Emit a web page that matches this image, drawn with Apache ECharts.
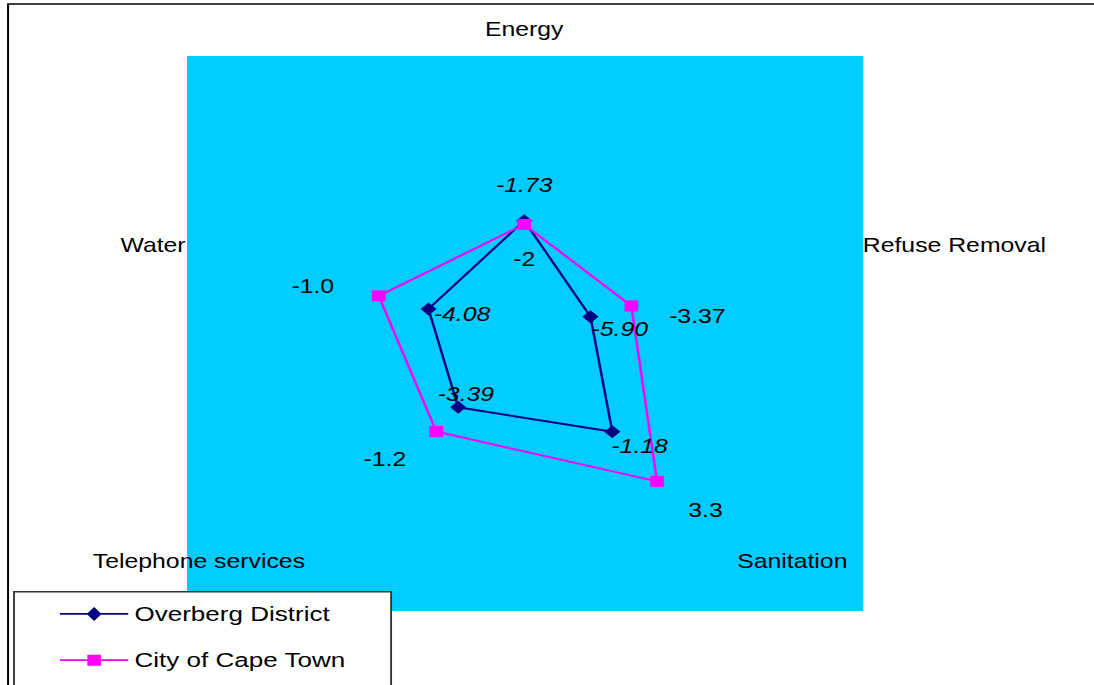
<!DOCTYPE html>
<html>
<head>
<meta charset="utf-8">
<script src="https://cdn.jsdelivr.net/npm/echarts@6/dist/echarts.min.js"></script>
<style>
  html, body { margin: 0; padding: 0; background: #fff; overflow: hidden; width: 1094px; height: 685px; }
  /* the chart is laid out narrow and widened horizontally, giving the wide, flat radar */
  #chart { width: 882px; height: 685px; transform: scaleX(1.2404); transform-origin: 0 0; }
</style>
</head>
<body>
<div id="chart"></div>
<script>
// Indicators, counter-clockwise from the top (ECharts radar order)
const categories = ['Energy', 'Water', 'Telephone services', 'Sanitation', 'Refuse Removal'];
const seriesNames = ['Overberg District', 'City of Cape Town'];

const overbergValues = [-1.73, -4.08, -3.39, -1.18, -5.90];
const overbergDecimals = [2, 2, 2, 2, 2];
const capeTownValues = [-2, -1.0, -1.2, 3.3, -3.37];
const capeTownDecimals = [0, 1, 1, 1, 2];

const axisMin = -10;
const axisMax = 5;

// Nudges (px) for the value labels, same order as categories
const overbergLabelShift = [[0, -35], [27, 5.5], [6.2, -12.8], [22, 14.5], [23.6, 13]];
const capeTownLabelShift = [[0, 34.5], [-53.2, -10], [-41.4, 27.8], [39.1, 29], [53.2, 10.5]];

const FONT = '"Liberation Sans", Arial, Helvetica, sans-serif';
const NAVY = '#000080';
const MAGENTA = '#FF00FF';

const fmt = (vals, decs) => vals.map((v, i) => v.toFixed(decs[i]));
const labelTexts = [fmt(overbergValues, overbergDecimals), fmt(capeTownValues, capeTownDecimals)];
const labelShifts = [overbergLabelShift, capeTownLabelShift];

// legend icons: a line with the marker in the middle
const iconDiamond = 'path://M0,6.1H55V7.9H0Z M27.5,0L33.5,7L27.5,14L21.5,7Z';
const iconSquare = 'path://M0,0H0.01V0.01Z M55,14H54.99V13.99Z M0,6.1H55V7.9H0Z M22,1.5H33V12.5H22Z';

// per-name text styles (extra padding nudges a name off its default anchor)
const nameStyles = {
  'Energy': 'top',
  'Telephone services': 'tel',
  'Sanitation': 'san'
};

const chart = echarts.init(document.getElementById('chart'), null, { renderer: 'svg' });

const nameBase = { fontSize: 20, color: '#000', fontFamily: FONT };

chart.setOption({
  backgroundColor: '#ffffff',
  animation: false,
  textStyle: { fontFamily: FONT },
  graphic: [
    { type: 'rect', z: -20, silent: true,
      shape: { x: 150.8, y: 56, width: 545.2, height: 555 },
      style: { fill: '#00CCFF' } },
    { type: 'rect', z: -10, silent: true,
      shape: { x: 6.5, y: 4, width: 2000, height: 2000 },
      style: { fill: 'none', stroke: '#000', lineWidth: 1.6 } },
    { type: 'rect', z: 3, silent: true,
      shape: { x: 11.3, y: 591.7, width: 304, height: 200 },
      style: { fill: '#ffffff', stroke: '#333', lineWidth: 1.5 } }
  ],
  legend: {
    orient: 'vertical',
    left: 48.4,
    top: 603.4,
    padding: 0,
    itemWidth: 55,
    itemHeight: 14,
    itemGap: 25.3,
    itemStyle: { borderWidth: 0 },
    textStyle: { fontSize: 21, color: '#000', fontFamily: FONT },
    data: [
      { name: seriesNames[0], icon: iconDiamond },
      { name: seriesNames[1], icon: iconSquare }
    ]
  },
  radar: {
    center: [422.6, 334],
    radius: 205.5,
    startAngle: 90,
    shape: 'polygon',
    splitNumber: 3,
    nameGap: 81.5,
    indicator: categories.map(n => ({ name: n, min: axisMin, max: axisMax })),
    axisName: {
      color: '#000',
      fontSize: 20,
      fontFamily: FONT,
      formatter: name => nameStyles[name] ? '{' + nameStyles[name] + '|' + name + '}' : name,
      rich: {
        top: Object.assign({ padding: [0, 0, 8, 0] }, nameBase),
        tel: Object.assign({ padding: [0, 8, 10, 0] }, nameBase),
        san: Object.assign({ padding: [0, 0, 10, 3] }, nameBase)
      }
    },
    axisLine: { show: false },
    axisTick: { show: false },
    axisLabel: { show: false },
    splitLine: { show: false },
    splitArea: { show: false }
  },
  series: [{
    type: 'radar',
    labelLayout: function (p) {
      const texts = labelTexts[p.dataIndex];
      const shifts = labelShifts[p.dataIndex];
      const i = texts.indexOf(p.text);
      if (i < 0) return {};
      return { dx: shifts[i][0], dy: shifts[i][1] };
    },
    data: [
      {
        name: seriesNames[0],
        value: overbergValues,
        symbol: 'diamond',
        symbolSize: 13,
        lineStyle: { color: NAVY, width: 2 },
        itemStyle: { color: NAVY },
        label: {
          show: true, position: 'inside', align: 'center', verticalAlign: 'middle',
          fontSize: 20, fontStyle: 'italic', color: '#000', fontFamily: FONT,
          formatter: p => labelTexts[0][p.dimensionIndex]
        }
      },
      {
        name: seriesNames[1],
        value: capeTownValues,
        symbol: 'rect',
        symbolSize: 11,
        lineStyle: { color: MAGENTA, width: 2 },
        itemStyle: { color: MAGENTA },
        label: {
          show: true, position: 'inside', align: 'center', verticalAlign: 'middle',
          fontSize: 20, color: '#000', fontFamily: FONT,
          formatter: p => labelTexts[1][p.dimensionIndex]
        }
      }
    ]
  }]
});
</script>
</body>
</html>
